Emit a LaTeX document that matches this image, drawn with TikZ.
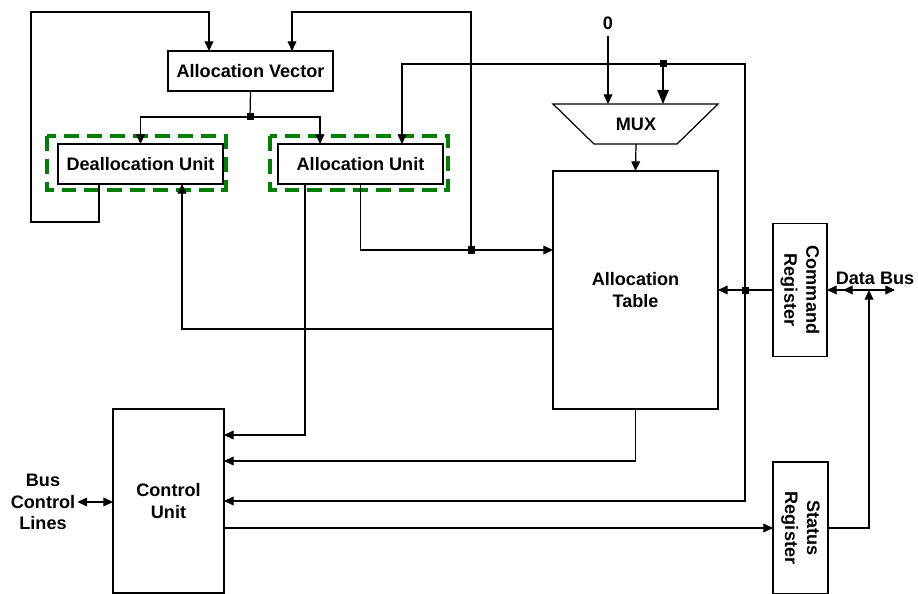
\documentclass[tikz,border=0pt]{standalone}
\usepackage{fontspec}
\setmainfont{Liberation Sans}
\usetikzlibrary{calc,arrows.meta}

\begin{document}
\begin{tikzpicture}[x=0.02cm, y=-0.02cm, line width=0.7pt,
    font=\fontsize{10.3}{12.4}\selectfont\bfseries,
    box/.style 2 args={draw, align=center, minimum width=#1*0.02cm, minimum height=#2*0.02cm, inner sep=0pt, outer sep=0pt},
    arr/.style={-{Triangle[length=5.5pt,width=5pt]}},
    dbl/.style={{Triangle[length=5.5pt,width=5pt]}-{Triangle[length=5.5pt,width=5pt]}},
    grn/.style={draw=green!50!black, line width=2pt, dash pattern=on 8.5pt off 4.5pt}]
    \useasboundingbox (0,0) rectangle (918,594);
    \node[box={165}{40}] (AV) at (250.5,71) {Allocation Vector};
    \node[box={165}{40}] (DU) at (140.5,164) {Deallocation Unit};
    \node[box={165}{40}] (AU) at (360.5,164) {Allocation Unit};
    \node[box={165}{238}] (AT) at (635.5,290) {Allocation\\Table};
    \node[box={111}{184}] (CU) at (168.5,501) {Control\\Unit};
    \node[box={54}{133}] (CR) at (800,290) {};
    \node[box={55}{132}] (SR) at (800.5,528) {};
    \node[rotate=-90, align=center] (CRlbl) at (CR) {Command\\Register};
    \node[rotate=-90, align=center] (SRlbl) at (SR) {Status\\Register};
    \draw[grn] ($(DU.north west)+(-11,-8)$) rectangle ($(DU.south east)+(3,6)$);
    \draw[grn] ($(AU.north west)+(-8,-8)$) rectangle ($(AU.south east)+(5,6)$);
    \coordinate (m1) at (553,104);
    \coordinate (m2) at (718,104);
    \coordinate (m3) at (677,144);
    \coordinate (m4) at (594,144);
    \draw (m1) -- (m2) -- (m3) -- (m4) -- cycle;
    \node (mux) at (636,124) {MUX};
    \node (zero) at (608,23) {0};
    \node[align=center, inner sep=1pt] (bcl) at (43,502) {Bus\\Control\\Lines};
    \coordinate (j1) at (250,117);
    \coordinate (j2) at (471,250);
    \coordinate (j3) at (745,290);
    \coordinate (j4) at (663,64);
    \coordinate (db) at (869,290);
    \coordinate (dbr) at (895,290);
    \draw (AV.south) -- (j1);
    \draw[arr] (j1) -| (DU.north);
    \draw[arr] (j1) -| ($(AU.north west)+(42,0)$);
    \draw[arr] ($(DU.south west)+(41,0)$) -- ++(0,38) -| (31,12) -| ($(AV.north west)+(41,0)$);
    \draw[arr] (j2) -- (471,12) -| ($(AV.north west)+(124,0)$);
    \draw[arr] (AU.south) |- (AT.west |- j2);
    \draw[arr] ($(AU.south west)+(27,0)$) |- (CU.east |- 0,435);
    \draw[arr] (AT.west |- 0,329) -| ($(DU.south west)+(124,0)$);
    \draw[arr] (AT.south) |- (CU.east |- 0,461);
    \draw[arr] (zero) -- (zero |- m1);
    \draw[arr] (mux |- m3) -- (AT.north);
    \draw[arr] (CR.west) -- (AT.east);
    \draw[arr] (j3) -- (j3 |- j4) -| ($(AU.north west)+(124,0)$);
    \draw[-{Triangle[length=8pt,width=6.5pt]}] (j4) -- (j4 |- m1);
    \draw[arr] (j3) |- (CU.east);
    \draw[arr] (CU.east |- 0,528) -- (SR.west);
    \draw[arr] (SR.east) -| (db);
    \draw[dbl] (CR.east) -- (dbr);
    \draw[arr] (db) -- ($(CR.east)+(16,0)$);
    \draw[dbl] (bcl.east) -- (CU.west |- bcl.east);
    \foreach \p in {j1,j2,j3,j4} {\fill ($(\p)+(-3.5,-3.5)$) rectangle ($(\p)+(3.5,3.5)$);}
    \node[above] at ($(db)+(6,1)$) {Data Bus};
\end{tikzpicture}
\end{document}
